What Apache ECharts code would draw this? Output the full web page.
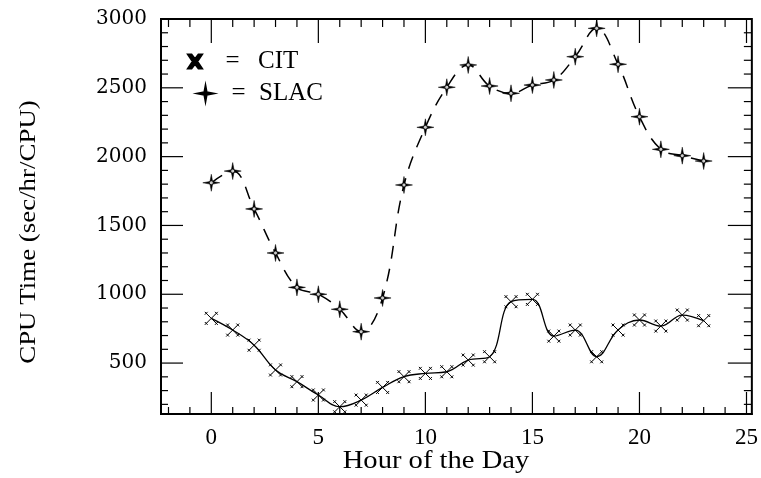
<!DOCTYPE html>
<html>
<head>
<meta charset="utf-8">
<script src="https://cdn.jsdelivr.net/npm/echarts@6/dist/echarts.min.js"></script>
<style>
html,body{margin:0;padding:0;background:#fff;}
#chart{width:761px;height:478px;}
</style>
</head>
<body>
<div id="chart"></div>
<script>
// ---- data ----
var hours = [0,1,2,3,4,5,6,7,8,9,10,11,12,13,14,15,16,17,18,19,20,21,22,23];
var citValues = [825,740,630,450,365,268,183,231,323,401,425,437,522,546,946,963,696,740,546,740,813,769,849,808];
var slacValues = [1810,1895,1620,1300,1050,1000,891,728,973,1794,2213,2504,2666,2513,2460,2520,2557,2726,2932,2671,2290,2053,2007,1968];
var xTickLabels = [0,5,10,15,20,25];
var xMinorTicks = [-2,-1,1,2,3,4,6,7,8,9,11,12,13,14,16,17,18,19,21,22,23,24];
var yTickLabels = [500,1000,1500,2000,2500,3000];
var yMinorTicks = [200,300,400,600,700,800,900,1100,1200,1300,1400,1600,1700,1800,1900,2100,2200,2300,2400,2600,2700,2800,2900];
var seriesNames = ['CIT','SLAC'];
var xTitle = 'Hour of the Day';
var yTitle = 'CPU Time (sec/hr/CPU)';

// ---- symbols ----
var citCluster = 'path://M-5 -5L5 5M-5 5L5 -5' +
  'M-8 -8L-4.5 -4.5M-8 -4.5L-4.5 -8' +
  'M4.5 -8L8 -4.5M4.5 -4.5L8 -8' +
  'M-8 4.5L-4.5 8M-8 8L-4.5 4.5' +
  'M4.5 4.5L8 8M4.5 8L8 4.5';
var citIcon = 'path://M-6 -6L-3 -6L0 -2L3 -6L6 -6L2 0L6 6L3 6L0 2L-3 6L-6 6L-2 0Z';
var slacStar = 'path://M0 -9L1.4 -1.4L9 0L1.4 1.4L0 9L-1.4 1.4L-9 0L-1.4 -1.4Z';

var citData = hours.map(function(h,i){return [h, citValues[i]];});
var slacData = hours.map(function(h,i){return [h, slacValues[i]];});

var XMIN = -2.35, XMAX = 25.25, YMIN = 130, YMAX = 3000;
var serif = 'Liberation Serif';
function plain(v){ return String(v); }

// tick mark data (value on the axis, opposite-axis min, tick lengths in px: near side / far side)
var xTickData = xTickLabels.map(function(v){return [v, YMIN, 22, 24];})
  .concat(xMinorTicks.map(function(v){return [v, YMIN, 7, 8];}));
var yTickData = yTickLabels.map(function(v){return [XMIN, v, 22, 24];})
  .concat(yMinorTicks.map(function(v){return [XMIN, v, 7, 8];}));

var tickStyle = {stroke:'#000', lineWidth:1.2};

function renderXTick(params, api){
  var cs = params.coordSys;
  var x = api.coord([api.value(0), api.value(1)])[0];
  var bottom = cs.y + cs.height, top = cs.y;
  return {type:'group', children:[
    {type:'line', shape:{x1:x, y1:bottom, x2:x, y2:bottom - api.value(2)}, style:tickStyle},
    {type:'line', shape:{x1:x, y1:top, x2:x, y2:top + api.value(3)}, style:tickStyle}
  ]};
}
function renderYTick(params, api){
  var cs = params.coordSys;
  var y = api.coord([api.value(0), api.value(1)])[1];
  var left = cs.x, right = cs.x + cs.width;
  return {type:'group', children:[
    {type:'line', shape:{x1:left, y1:y, x2:left + api.value(2), y2:y}, style:tickStyle},
    {type:'line', shape:{x1:right, y1:y, x2:right - api.value(3), y2:y}, style:tickStyle}
  ]};
}

var chart = echarts.init(document.getElementById('chart'));
chart.setOption({
  animation:false,
  backgroundColor:'#fff',
  grid:{left:161, right:8, top:19, bottom:64, show:true, borderColor:'#000', borderWidth:2},
  xAxis:{
    type:'value', min:XMIN, max:XMAX,
    axisLine:{show:true, onZero:false, lineStyle:{color:'#000', width:2}},
    axisTick:{show:false},
    splitLine:{show:false},
    axisLabel:{customValues:xTickLabels, color:'#000', margin:12, fontFamily:serif, fontSize:23, formatter:plain}
  },
  yAxis:{
    type:'value', min:YMIN, max:YMAX,
    axisLine:{show:true, onZero:false, lineStyle:{color:'#000', width:2}},
    axisTick:{show:false},
    splitLine:{show:false},
    axisLabel:{customValues:yTickLabels, color:'#000', margin:14, fontFamily:'DejaVu Serif', fontSize:20, formatter:plain}
  },
  legend:[
    {
      data:[{name:seriesNames[0], icon:citIcon}],
      left:182, top:44, itemWidth:14, itemHeight:14,
      selectedMode:false,
      formatter:function(n){return '{a|=}{b|'+n+'}';},
      textStyle:{color:'#000', fontFamily:serif, fontSize:25,
        rich:{a:{width:51, align:'center', fontFamily:serif, fontSize:25}, b:{fontFamily:serif, fontSize:25}}}
    },
    {
      data:[{name:seriesNames[1], icon:slacStar}],
      left:192, top:76, itemWidth:15, itemHeight:15,
      selectedMode:false,
      formatter:function(n){return '{a|=}{b|'+n+'}';},
      textStyle:{color:'#000', fontFamily:serif, fontSize:25,
        rich:{a:{width:41, align:'center', fontFamily:serif, fontSize:25}, b:{fontFamily:serif, fontSize:25}}}
    }
  ],
  graphic:[
    {type:'text', x:436, y:461, scaleX:1.1, style:{text:xTitle, fill:'#000', font:'26px "Liberation Serif"', align:'center', verticalAlign:'middle'}},
    {type:'text', rotation:Math.PI/2, x:29, y:232, scaleX:1.17, style:{text:yTitle, fill:'#000', font:'23px "Liberation Serif"', align:'center', verticalAlign:'middle'}}
  ],
  series:[
    {
      name:'x ticks', type:'custom', data:xTickData, renderItem:renderXTick,
      encode:{x:0, y:1}, silent:true, clip:false, z:1
    },
    {
      name:'y ticks', type:'custom', data:yTickData, renderItem:renderYTick,
      encode:{x:0, y:1}, silent:true, clip:false, z:1
    },
    {
      name:seriesNames[0], type:'line', data:citData, smooth:0.4,
      symbol:citCluster, symbolSize:13, showAllSymbol:true,
      lineStyle:{color:'#000', width:1.3},
      itemStyle:{color:'#000', borderColor:'#000', borderWidth:1},
      emphasis:{disabled:true}, z:3
    },
    {
      name:seriesNames[1], type:'line', data:slacData, smooth:0.4,
      symbol:slacStar, symbolSize:17, showAllSymbol:true,
      lineStyle:{color:'#000', width:1.5, type:[13,10]},
      itemStyle:{color:'#000', borderColor:'#000', borderWidth:0.5},
      emphasis:{disabled:true}, z:3
    },
    {
      name:'SLAC center', type:'scatter', data:slacData,
      symbol:'circle', symbolSize:4,
      itemStyle:{color:'#fff', borderColor:'#000', borderWidth:1},
      emphasis:{disabled:true}, silent:true, z:4
    }
  ]
});
</script>
</body>
</html>
